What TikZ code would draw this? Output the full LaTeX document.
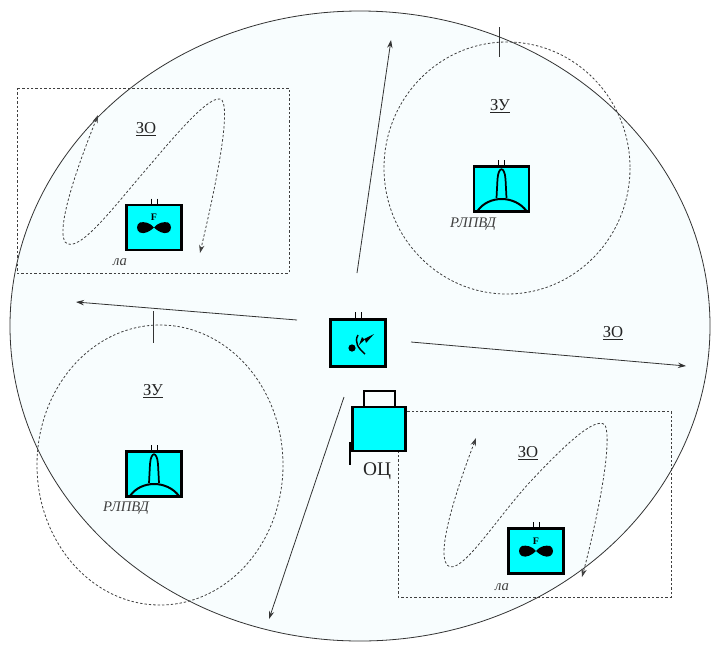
\documentclass[tikz,border=0pt]{standalone}
\usepackage{fontspec}
\setmainfont{Liberation Serif}
\usetikzlibrary{arrows.meta}
\definecolor{iconcyan}{HTML}{00FFFF}
\definecolor{zonefill}{HTML}{F8FDFE}
\tikzset{
  x=0.75pt,y=-0.75pt,
  thinline/.style={draw=black!80,line width=0.6pt},
  arrowline/.style={thinline,-{Stealth[length=6pt,width=4pt]}},
  dashline/.style={draw=black!75,line width=0.6pt,dash pattern=on 1.8pt off 1.5pt},
  looparrow/.style={dashline,{Stealth[length=6pt,width=4pt]}-{Stealth[length=6pt,width=4pt]}},
  iconbox/.style={draw=black,fill=iconcyan,line width=1.9pt,minimum width=41pt,minimum height=34pt,inner sep=0pt,outer sep=0pt},
  lab/.style={inner sep=0pt,text=black!85,font=\fontsize{12.5pt}{14pt}\selectfont},
  smalllab/.style={inner sep=0pt,font=\fontsize{11pt}{13pt}\selectfont\itshape,text=black!75},
  plane/.pic={
    \fill[black] (0,0) .. controls (-4,-5) and (-10,-6) .. (-14,-5) .. controls (-18,-3) and (-18,3) .. (-14,5) .. controls (-10,7) and (-4,4) .. (0,0)
      .. controls (4,-5) and (10,-6) .. (14,-5) .. controls (18,-3) and (18,3) .. (14,5) .. controls (10,7) and (4,4) .. (0,0) -- cycle;
    \node[inner sep=0pt,font=\fontsize{7.5pt}{8pt}\selectfont\bfseries] at (0,-10) {F};
    \draw[line width=0.4pt] (-3,-29) -- (-3,-23) (3,-29) -- (3,-23);
  },
  radar/.pic={
    \draw[line width=1.5pt] (-24,22) .. controls (-13,6) and (13,6) .. (25,22);
    \draw[line width=1.3pt] (-5,9) -- (-4,-10) .. controls (-3,-23) and (3,-23) .. (4,-10) -- (5,9);
    \draw[line width=0.4pt] (-3,-29) -- (-3,-23) (3,-29) -- (3,-23);
  }
}
\begin{document}
\begin{tikzpicture}
\useasboundingbox (0,0) rectangle (713,647);
\fill[white] (0,0) rectangle (713,647);
% zone
\draw[thinline,fill=zonefill] (360,326) ellipse [x radius=350,y radius=315];
% dashed zones
\draw[dashline] (507,168) ellipse [x radius=123,y radius=126];
\draw[dashline] (160,465) ellipse [x radius=123,y radius=140];
\draw[dashline] (17,88) rectangle (289,273);
\draw[dashline] (398,411) rectangle (671,597);
% ticks
\coordinate (t1a) at (499,27); \coordinate (t1b) at (499,57);
\coordinate (t2a) at (153,311); \coordinate (t2b) at (153,343);
\draw[thinline] (t1a) -- (t1b);
\draw[thinline] (t2a) -- (t2b);
% loops
\coordinate (la1) at (98,115); \coordinate (la2) at (200,253);
\coordinate (lb1) at (476,438); \coordinate (lb2) at (582,577);
\draw[looparrow] (la1) .. controls (84,150) and (55,225) .. (65,242)
  .. controls (78,256) and (115,205) .. (150,165)
  .. controls (178,132) and (212,92) .. (222,100)
  .. controls (232,115) and (210,210) .. (la2);
\draw[looparrow] (lb1) .. controls (462,475) and (435,550) .. (447,565)
  .. controls (460,578) and (495,520) .. (530,482)
  .. controls (560,450) and (595,415) .. (605,425)
  .. controls (614,445) and (592,540) .. (lb2);
% icons
\node[iconbox] (p1) at (154,227.5) {};
\pic at (p1.center) {plane};
\node[iconbox] (p2) at (536,551) {};
\pic at (p2.center) {plane};
\node[iconbox] (r1) at (501.5,189) {};
\pic at (r1.center) {radar};
\node[iconbox] (r2) at (154,474) {};
\pic at (r2.center) {radar};
\node[iconbox,minimum height=35.5pt] (c) at (358,343) {};
\draw[line width=0.4pt] (355,312) -- (355,319) (361,312) -- (361,319);
\fill[black] (352,348) circle (3.6);
\draw[line width=1.1pt] (358,335) .. controls (354,342) and (358,348) .. (365,354);
\fill[black] (374,334) -- (366,343) -- (365,339.5) -- (359,345) -- (362,337) -- (364,339) -- cycle;
% command post
\node[draw=black,fill=iconcyan,line width=1.9pt,minimum width=40pt,minimum height=33pt,inner sep=0pt,outer sep=0pt] (oc) at (379,429) {};
\draw[black,line width=1.6pt] (oc.north west)++(12,0) -- ++(0,-16) -- ++(31,0) -- ++(0,16);
\coordinate (f1) at (350,442); \coordinate (f2) at (350,465);
\draw[black,line width=1.6pt] (f1) -- (f2);
% arrows
\coordinate (ca1) at (357,273); \coordinate (ce1) at (391,40);
\coordinate (ca2) at (297,320); \coordinate (ce2) at (76,302);
\coordinate (ca3) at (411,342); \coordinate (ce3) at (686,366);
\coordinate (ca4) at (344,397); \coordinate (ce4) at (269,619);
\draw[arrowline] (ca1) -- (ce1);
\draw[arrowline] (ca2) -- (ce2);
\draw[arrowline] (ca3) -- (ce3);
\draw[arrowline] (ca4) -- (ce4);
% labels
\node[lab] (z1) at (146,129) {\underline{ЗО}};
\node[lab] (z2) at (500,106) {\underline{ЗУ}};
\node[lab] (z3) at (153,391) {\underline{ЗУ}};
\node[lab] (z4) at (613,333) {\underline{ЗО}};
\node[lab] (z5) at (528,453) {\underline{ЗО}};
\node[lab,font=\fontsize{14.5pt}{16pt}\selectfont] (oct) at (377,471) {ОЦ};
\node[smalllab] (la1t) at (120,262) {ла};
\node[smalllab] (la2t) at (502,587) {ла};
\node[smalllab] (rt1) at (473,224) {РЛПВД};
\node[smalllab] (rt2) at (126,508) {РЛПВД};
\end{tikzpicture}
\end{document}
